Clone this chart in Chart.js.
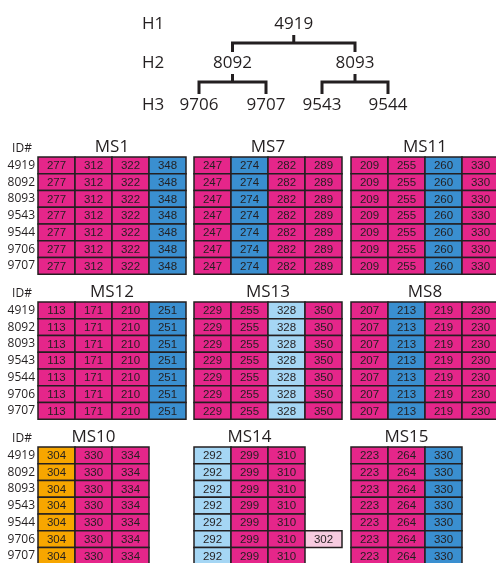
<!DOCTYPE html>
<html>
<head>
<meta charset="utf-8">
<script src="https://cdn.jsdelivr.net/npm/chart.js@4"></script>
<style>
  html, body { margin: 0; padding: 0; background: #fff; }
  #wrap { width: 496px; height: 563px; }
</style>
</head>
<body>
<div id="wrap"><canvas id="myChart"></canvas></div>
<script>
// individuals and pedigree
const ids = ["4919", "8092", "8093", "9543", "9544", "9706", "9707"];
const generations = ["H1", "H2", "H3"];
const idGeneration = [0, 1, 1, 2, 2, 2, 2];
const idParent = [null, "4919", "4919", "8093", "8093", "8092", "8092"];
const treeLeaves = ["9706", "9707", "9543", "9544"];

// microsatellite markers, allele sizes and allele class (0 common, 1 blue, 2 light blue, 3 orange, 4 extra)
const markers = ["MS1", "MS7", "MS11", "MS12", "MS13", "MS8", "MS10", "MS14", "MS15"];
const alleles = [
  [277, 312, 322, 348],
  [247, 274, 282, 289],
  [209, 255, 260, 330],
  [113, 171, 210, 251],
  [229, 255, 328, 350],
  [207, 213, 219, 230],
  [304, 330, 334],
  [292, 299, 310],
  [223, 264, 330]
];
const alleleClass = [
  [0, 0, 0, 1],
  [0, 1, 0, 0],
  [0, 0, 1, 0],
  [0, 0, 0, 1],
  [0, 0, 2, 0],
  [0, 1, 0, 0],
  [3, 0, 0],
  [2, 0, 0],
  [0, 0, 1]
];
// extra allele seen in one individual only
const extraMarker = "MS14";
const extraId = "9706";
const extraAllele = 302;

// styles / layout
const palette = ["#E5268A", "#3A8FD0", "#A5D6F4", "#F7A600", "#F7CBE0"];
const ink = "#231F20";
const FONT = "'Open Sans', 'Liberation Sans', sans-serif";
const CELL_FONT = "'Liberation Sans', Arial, sans-serif";
const leafX = { "9706": 199, "9707": 266, "9543": 322, "9544": 388 };
const genY = [24, 63, 105];
const barY = [43, 82];
const genLabelX = 142;
const blockX = [38, 194, 351];
const blockTop = [157, 302, 447];
const cellW = 37;
const cellH = 16.75;

// node x positions: leaves fixed, parents at midpoint of children
const nodeX = {};
treeLeaves.forEach(function (id) { nodeX[id] = leafX[id]; });
for (let g = generations.length - 2; g >= 0; g--) {
  ids.forEach(function (id, i) {
    if (idGeneration[i] !== g) return;
    const kids = ids.filter(function (c, j) { return idParent[j] === id; });
    if (kids.length) {
      nodeX[id] = kids.reduce(function (s, c) { return s + nodeX[c]; }, 0) / kids.length;
    }
  });
}

// tree connectors as one broken line
let treeLine = [];
ids.forEach(function (id, i) {
  const kids = ids.filter(function (c, j) { return idParent[j] === id; });
  if (!kids.length) return;
  const g = idGeneration[i];
  const xs = kids.map(function (c) { return nodeX[c]; });
  const c1 = Math.min.apply(null, xs);
  const c2 = Math.max.apply(null, xs);
  treeLine.push({ x: nodeX[id], y: genY[g] + 11 }, { x: nodeX[id], y: barY[g] }, { x: NaN, y: NaN });
  treeLine.push({ x: c1, y: genY[g + 1] - 11 }, { x: c1, y: barY[g] }, { x: c2, y: barY[g] }, { x: c2, y: genY[g + 1] - 11 }, { x: NaN, y: NaN });
});

const genotypeTables = {
  id: "genotypeTables",
  afterDatasetsDraw(chart) {
    const ctx = chart.ctx;
    const sx = chart.scales.x;
    const sy = chart.scales.y;
    const px = function (v) { return sx.getPixelForValue(v); };
    const py = function (v) { return sy.getPixelForValue(v); };
    ctx.save();
    ctx.fillStyle = ink;
    ctx.textBaseline = "middle";

    // tree labels
    ctx.font = "17px " + FONT;
    ctx.textAlign = "left";
    generations.forEach(function (g, i) { ctx.fillText(g, px(genLabelX), py(genY[i])); });
    ctx.textAlign = "center";
    ids.forEach(function (id, i) { ctx.fillText(id, px(nodeX[id]), py(genY[idGeneration[i]])); });

    // tables
    markers.forEach(function (m, k) {
      const bx = blockX[k % 3];
      const top = blockTop[Math.floor(k / 3)];
      const n = alleles[k].length;

      if (k % 3 === 0) {
        ctx.fillStyle = ink;
        ctx.font = "12px " + FONT;
        ctx.textAlign = "center";
        ctx.fillText("ID#", px(22), py(top - 8));
        ctx.textAlign = "right";
        ids.forEach(function (id, r) { ctx.fillText(id, px(bx - 3), py(top + cellH * (r + 0.5))); });
      }

      ctx.fillStyle = ink;
      ctx.font = "17px " + FONT;
      ctx.textAlign = "center";
      ctx.fillText(m, px(bx + cellW * n / 2), py(top - 10));

      ids.forEach(function (id, r) {
        const cells = alleles[k].map(function (a, c) { return { a: a, cls: alleleClass[k][c] }; });
        if (m === extraMarker && id === extraId) cells.push({ a: extraAllele, cls: 4 });
        cells.forEach(function (cell, c) {
          const x0 = px(bx + c * cellW), x1 = px(bx + (c + 1) * cellW);
          const y0 = py(top + r * cellH), y1 = py(top + (r + 1) * cellH);
          ctx.fillStyle = palette[cell.cls];
          ctx.fillRect(x0, y0, x1 - x0, y1 - y0);
          ctx.lineWidth = 1.5;
          ctx.strokeStyle = ink;
          ctx.strokeRect(x0, y0, x1 - x0, y1 - y0);
          ctx.fillStyle = ink;
          ctx.font = "11.5px " + CELL_FONT;
          ctx.textAlign = "center";
          ctx.fillText(String(cell.a), (x0 + x1) / 2, (y0 + y1) / 2 + 0.5);
        });
      });
    });
    ctx.restore();
  }
};

const config = {
  type: "scatter",
  data: {
    datasets: [{
      label: "pedigree",
      data: treeLine,
      showLine: true,
      spanGaps: false,
      borderColor: ink,
      borderWidth: 3,
      borderJoinStyle: "miter",
      borderCapStyle: "butt",
      pointRadius: 0,
      tension: 0
    }]
  },
  options: {
    responsive: true,
    maintainAspectRatio: false,
    animation: false,
    layout: { padding: 0 },
    plugins: { legend: { display: false }, tooltip: { enabled: false } },
    scales: {
      x: { type: "linear", min: 0, max: 496, display: false },
      y: { type: "linear", min: 0, max: 563, reverse: true, display: false }
    }
  },
  plugins: [genotypeTables]
};

const myChart = new Chart(document.getElementById("myChart"), config);
</script>
</body>
</html>
